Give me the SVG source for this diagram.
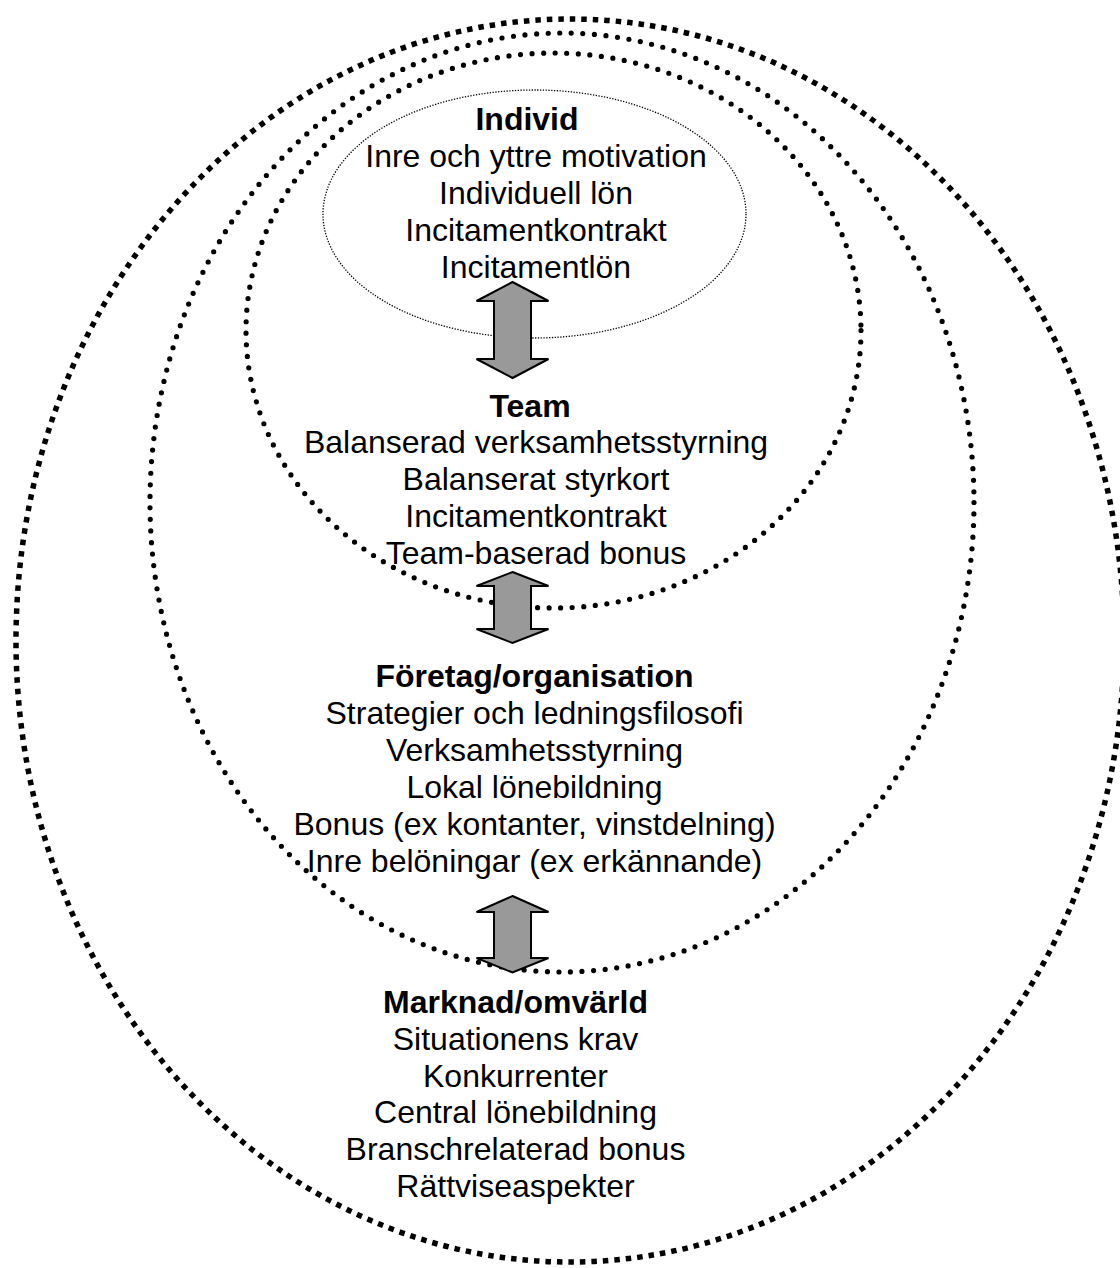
<svg xmlns="http://www.w3.org/2000/svg" width="1120" height="1268" viewBox="0 0 1120 1268">
<style>
.t{font-family:"Liberation Sans",Arial,sans-serif;font-size:32px;fill:#000;text-anchor:middle}
.b{font-weight:bold}
.sq{fill:none;stroke:#000;stroke-width:5.5;stroke-dasharray:5.5 6}
.rd{fill:none;stroke:#000;stroke-width:5.2;stroke-linecap:round;stroke-dasharray:0 11.6}
.th{fill:none;stroke:#000;stroke-width:1.3;stroke-dasharray:1.3 1.5}
.ar{fill:#999;stroke:#000;stroke-width:2;stroke-linejoin:miter}
</style>
<rect width="1120" height="1268" fill="#fff"/>
<g id="marknad">
<ellipse class="sq" cx="570" cy="640.5" rx="554" ry="621.5"/>
<text class="t b" x="515.5" y="1013">Marknad/omvärld</text>
<text class="t" x="515.5" y="1050">Situationens krav</text>
<text class="t" x="515.5" y="1087">Konkurrenter</text>
<text class="t" x="515.5" y="1123">Central lönebildning</text>
<text class="t" x="515.5" y="1160">Branschrelaterad bonus</text>
<text class="t" x="515.5" y="1197">Rättviseaspekter</text>
</g>
<g id="foretag">
<ellipse class="rd" cx="562" cy="502.5" rx="412" ry="469.5"/>
<text class="t b" x="534.5" y="687">Företag/organisation</text>
<text class="t" x="534.5" y="724">Strategier och ledningsfilosofi</text>
<text class="t" x="534.5" y="761">Verksamhetsstyrning</text>
<text class="t" x="534.5" y="798">Lokal lönebildning</text>
<text class="t" x="534.5" y="835">Bonus (ex kontanter, vinstdelning)</text>
<text class="t" x="534.5" y="872">Inre belöningar (ex erkännande)</text>
</g>
<g id="team">
<ellipse class="rd" cx="553.5" cy="330.5" rx="307.5" ry="277.5"/>
<text class="t b" x="530" y="417">Team</text>
<text class="t" x="536" y="453">Balanserad verksamhetsstyrning</text>
<text class="t" x="536" y="490">Balanserat styrkort</text>
<text class="t" x="536" y="527">Incitamentkontrakt</text>
<text class="t" x="536" y="564">Team-baserad bonus</text>
</g>
<g id="individ">
<ellipse class="th" cx="534.5" cy="214" rx="211.5" ry="124"/>
<text class="t b" x="527" y="130">Individ</text>
<text class="t" x="536" y="167">Inre och yttre motivation</text>
<text class="t" x="536" y="204">Individuell lön</text>
<text class="t" x="536" y="241">Incitamentkontrakt</text>
<text class="t" x="536" y="278">Incitamentlön</text>
</g>
<g id="connectors">
<path class="ar" d="M512.5,282 L548.5,301 L531,301 L531,359 L548.5,359 L512.5,378 L476.5,359 L494,359 L494,301 L476.5,301 Z"/>
<path class="ar" d="M512.5,572 L548.5,586 L531,586 L531,629 L548.5,629 L512.5,643 L476.5,629 L494,629 L494,586 L476.5,586 Z"/>
<path class="ar" d="M512.5,896 L548.5,912 L531,912 L531,958 L548.5,958 L512.5,972.5 L476.5,958 L494,958 L494,912 L476.5,912 Z"/>
</g>
</svg>
